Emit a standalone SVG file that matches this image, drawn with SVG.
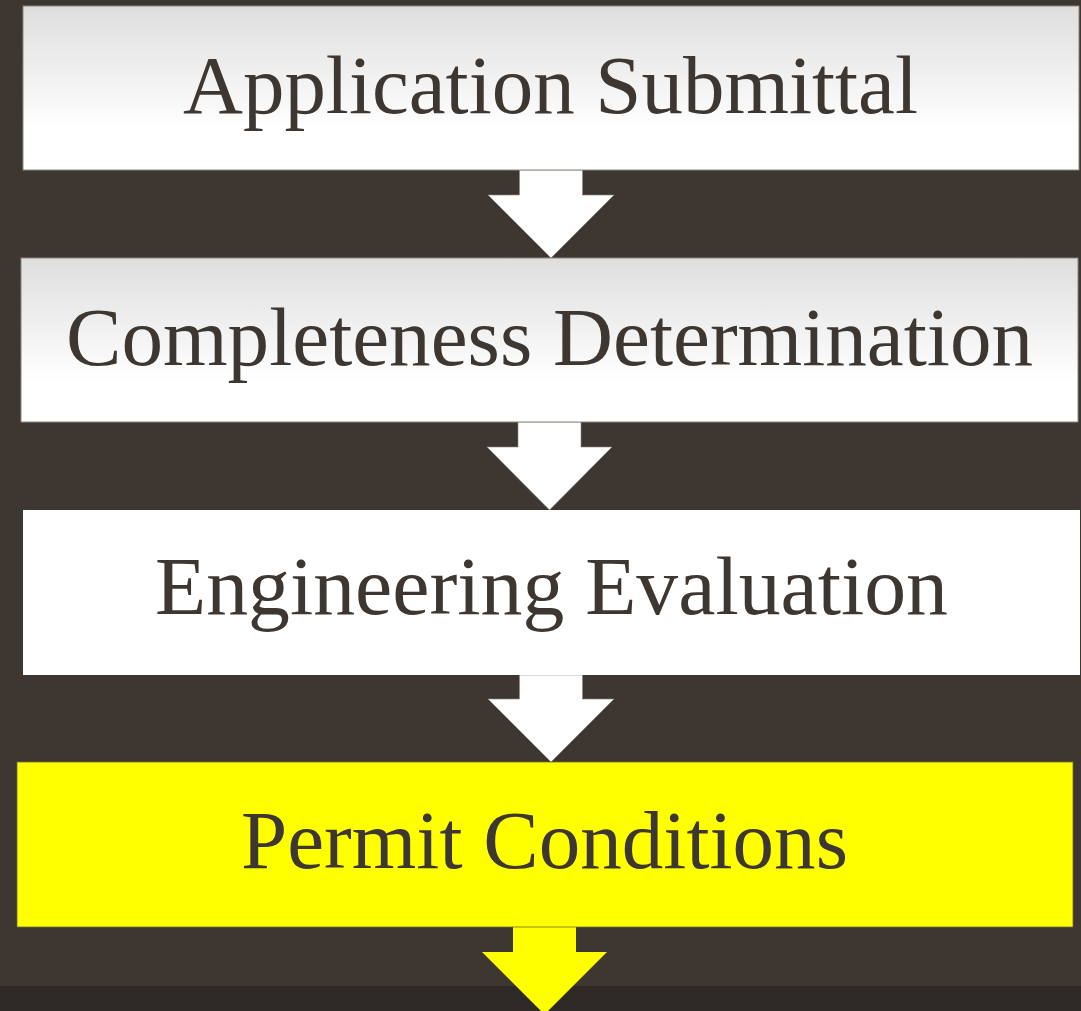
<svg xmlns="http://www.w3.org/2000/svg" width="1081" height="1011" viewBox="0 0 1081 1011">
<defs>
<linearGradient id="g" x1="0" y1="0" x2="0" y2="1">
<stop offset="0" stop-color="#dedede"/>
<stop offset="0.75" stop-color="#ffffff"/>
<stop offset="1" stop-color="#ffffff"/>
</linearGradient>
<style>
.box{stroke:#8a8680;stroke-width:1}
.lbl{font-family:"Liberation Serif","DejaVu Serif",serif;font-size:82px;fill:#3e3731;text-anchor:middle}
.arw{fill:#ffffff;stroke:#8a8680;stroke-width:0.6}
.arwy{fill:#ffff00}
</style>
</defs>
<rect x="0" y="0" width="1081" height="1011" fill="#3e3731"/>
<rect x="0" y="986" width="1081" height="25" fill="#2e2924"/>
<g id="connectors">
<polygon class="arw" points="519.5,170 582.5,170 582.5,195 614,195 551,258 488,195 519.5,195"/>
<polygon class="arw" points="518,422 581,422 581,447 612,447 549.5,510 487,447 518,447"/>
<polygon class="arw" points="519.5,675 582.5,675 582.5,699 614,699 551,762 488,699 519.5,699"/>
<polygon class="arwy" points="513,926 576,926 576,952 607,952 544.5,1014.5 482,952 513,952"/>
</g>
<g id="node1">
<rect class="box" x="23" y="6" width="1056" height="164" fill="url(#g)"/>
<text class="lbl" x="550.5" y="113" textLength="735" lengthAdjust="spacingAndGlyphs">Application Submittal</text>
</g>
<g id="node2">
<rect class="box" x="21" y="258" width="1057" height="164" fill="url(#g)"/>
<text class="lbl" x="549.5" y="365" textLength="967" lengthAdjust="spacingAndGlyphs">Completeness Determination</text>
</g>
<g id="node3">
<rect x="23" y="510" width="1057" height="165" fill="#ffffff"/>
<text class="lbl" x="551.5" y="614" textLength="793" lengthAdjust="spacingAndGlyphs">Engineering Evaluation</text>
</g>
<g id="node4">
<rect x="17" y="762" width="1056" height="165" fill="#ffff00" stroke="#6e6a3a" stroke-width="0.8"/>
<text class="lbl" x="544.5" y="868" textLength="607" lengthAdjust="spacingAndGlyphs">Permit Conditions</text>
</g>
</svg>
